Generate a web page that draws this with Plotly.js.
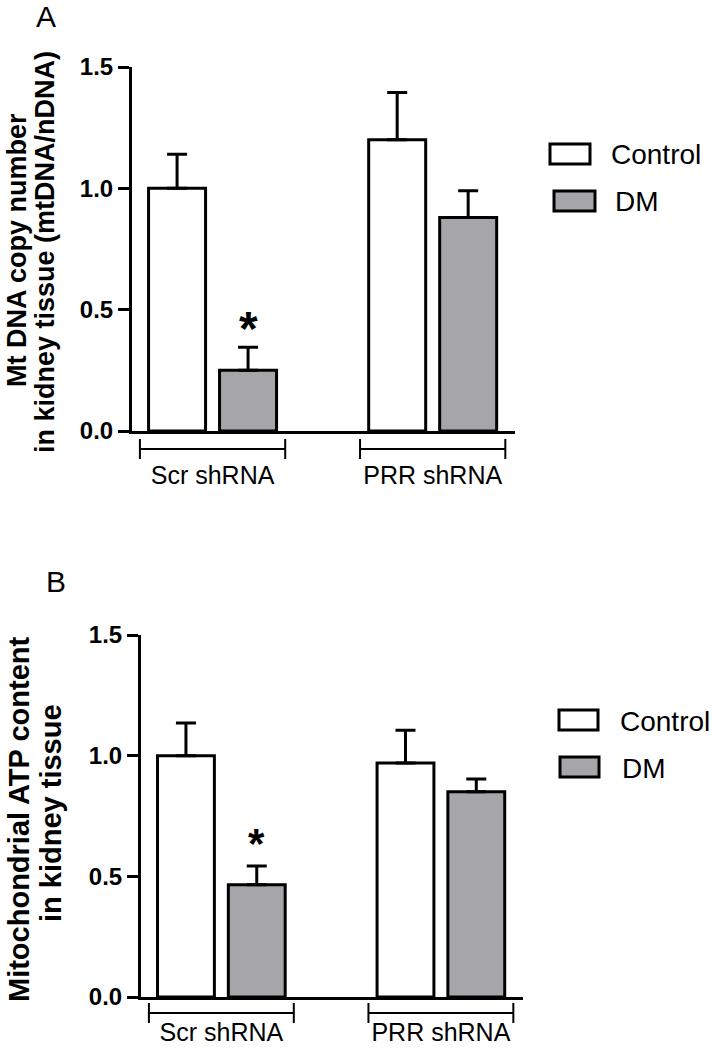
<!DOCTYPE html>
<html>
<head>
<meta charset="utf-8">
<script src="https://cdn.plot.ly/plotly-3.0.1.min.js"></script>
<style>
  html, body { margin: 0; padding: 0; background: #fff; }
  #graph { width: 712px; height: 1048px; }
</style>
</head>
<body>
<div id="graph"></div>
<script>
// ---- data ----
const categories = ['Scr shRNA', 'PRR shRNA'];
const seriesNames = ['Control', 'DM'];

// panel A: mt DNA copy number
const mtdnaControl = [1.00, 1.20];
const mtdnaControlErr = [0.14, 0.195];
const mtdnaDM = [0.25, 0.88];
const mtdnaDMErr = [0.095, 0.11];

// panel B: mitochondrial ATP content
const atpControl = [1.00, 0.97];
const atpControlErr = [0.135, 0.135];
const atpDM = [0.465, 0.85];
const atpDMErr = [0.078, 0.053];

const yTicks = [0, 0.5, 1.0, 1.5];
const signifIndex = 0; // '*' over DM in Scr shRNA group

// ---- styles ----
const W = 712, H = 1048;
const FONT = 'Arial, "Liberation Sans", sans-serif';
const GREY = '#a6a6aa';
const BARGAP = 0.355, GROUPGAP = 0.197;
const dmOffset = (1 - BARGAP) / 4;   // centre of 2nd bar in a group
const px = v => v / W;
const py = v => 1 - v / H;

function barTrace(name, y, err, fill, xa, ya) {
    return {
        type: 'bar', name: name,
        x: categories, y: y,
        xaxis: xa, yaxis: ya,
        marker: { color: fill, line: { color: '#000', width: 3 } },
        error_y: {
            type: 'data', symmetric: false,
            array: err, arrayminus: err.map(() => 0),
            color: '#000', thickness: 3, width: 10
        },
        hoverinfo: 'none'
    };
}

const data = [
    barTrace(seriesNames[0], mtdnaControl, mtdnaControlErr, '#ffffff', 'x', 'y'),
    barTrace(seriesNames[1], mtdnaDM, mtdnaDMErr, GREY, 'x', 'y'),
    barTrace(seriesNames[0], atpControl, atpControlErr, '#ffffff', 'x2', 'y2'),
    barTrace(seriesNames[1], atpDM, atpDMErr, GREY, 'x2', 'y2')
];

function xAxis(domain, anchor, standoff) {
    return {
        domain: domain, anchor: anchor, type: 'category',
        range: [-0.366, 1.374], fixedrange: true,
        showline: true, linewidth: 3, linecolor: '#000',
        ticks: '', showgrid: false, zeroline: false,
        ticklabelstandoff: standoff,
        tickfont: { family: FONT, size: 25, color: '#000' }
    };
}
function yAxis(domain, anchor) {
    return {
        domain: domain, anchor: anchor,
        range: [0, 1.5], fixedrange: true,
        showline: true, linewidth: 3, linecolor: '#000',
        ticks: 'outside', ticklen: 11, tickwidth: 3, tickcolor: '#000',
        tickvals: yTicks, tickformat: '.1f',
        showgrid: false, zeroline: false,
        tickfont: { family: FONT, size: 24, color: '#000', weight: 'bold' }
    };
}

// bracket under each category group
function brackets(xref, yref, drop) {
    const out = [];
    const line = { color: '#000', width: 2 };
    categories.forEach((c, i) => {
        const a = i - 0.33, b = i + 0.33;
        out.push({ type: 'line', xref: xref, yref: yref + ' domain', ysizemode: 'pixel', yanchor: 0,
            x0: a, x1: b, y0: -drop, y1: -drop, line: line });
        [a, b].forEach(xv => out.push({ type: 'line', xref: xref, yref: yref + ' domain', ysizemode: 'pixel', yanchor: 0,
            x0: xv, x1: xv, y0: -drop + 10, y1: -drop - 10, line: line }));
    });
    return out;
}

// hand drawn legend boxes (wide rectangles as in the figure)
function legendBoxes(rows) {
    const out = [], ann = [];
    rows.forEach((r, i) => {
        out.push({ type: 'rect', xref: 'paper', yref: 'paper',
            x0: px(r.x0), x1: px(r.x1), y0: py(r.yb), y1: py(r.yt),
            fillcolor: i === 0 ? '#ffffff' : GREY, line: { color: '#000', width: 3 } });
        ann.push({ xref: 'paper', yref: 'paper', x: px(r.tx), y: py(r.ty),
            xanchor: 'left', yanchor: 'middle', showarrow: false,
            text: seriesNames[i], font: { family: FONT, size: 28, color: '#000' } });
    });
    return { shapes: out, annotations: ann };
}

const legA = legendBoxes([
    { x0: 550, x1: 590, yt: 144, yb: 164, tx: 609, ty: 154 },
    { x0: 554, x1: 595, yt: 191, yb: 211, tx: 613, ty: 201 }
]);
const legB = legendBoxes([
    { x0: 559, x1: 598, yt: 710, yb: 730, tx: 618, ty: 721 },
    { x0: 560, x1: 599, yt: 757, yb: 777, tx: 620, ty: 768 }
]);

function rotTitle(text, x, y, size) {
    return { xref: 'paper', yref: 'paper', x: px(x), y: py(y), textangle: -90,
        xanchor: 'center', yanchor: 'middle', showarrow: false, text: text,
        font: { family: FONT, size: size, color: '#000', weight: 'bold' } };
}
function star(xref, yref, yv, shift, size) {
    return { xref: xref, yref: yref, x: signifIndex + dmOffset, y: yv,
        yanchor: 'middle', xanchor: 'center', yshift: shift, showarrow: false, text: '*',
        font: { family: FONT, size: size, color: '#000', weight: 'bold' } };
}
function panelLabel(text, x, y) {
    return { xref: 'paper', yref: 'paper', x: px(x), y: py(y), xanchor: 'center', yanchor: 'middle',
        showarrow: false, text: text, font: { family: FONT, size: 30, color: '#000' } };
}

const annotations = [
    panelLabel('A', 46, 16),
    panelLabel('B', 56, 581),
    rotTitle('Mt DNA copy number', 17, 250, 27),
    rotTitle('in kidney tissue (mtDNA/nDNA)', 45, 252, 27),
    rotTitle('Mitochondrial ATP content', 19, 819, 29),
    rotTitle('in kidney tissue', 51, 813, 29),
    star('x', 'y', mtdnaDM[signifIndex] + mtdnaDMErr[signifIndex], 19, 48),
    star('x2', 'y2', atpDM[signifIndex] + atpDMErr[signifIndex], 22, 42)
].concat(legA.annotations, legB.annotations);

const layout = {
    width: W, height: H,
    margin: { l: 0, r: 0, t: 0, b: 0 },
    paper_bgcolor: '#fff', plot_bgcolor: 'rgba(0,0,0,0)',
    showlegend: false,
    barmode: 'group', bargap: BARGAP, bargroupgap: GROUPGAP,
    font: { family: FONT, color: '#000' },
    xaxis: xAxis([px(132), px(515)], 'y', 20),
    yaxis: yAxis([py(431), py(67)], 'x'),
    xaxis2: xAxis([px(141), px(523)], 'y2', 11),
    yaxis2: yAxis([py(997), py(635)], 'x2'),
    shapes: brackets('x', 'y', 18).concat(brackets('x2', 'y2', 16), legA.shapes, legB.shapes),
    annotations: annotations
};

Plotly.newPlot('graph', data, layout, { staticPlot: true });
</script>
</body>
</html>
